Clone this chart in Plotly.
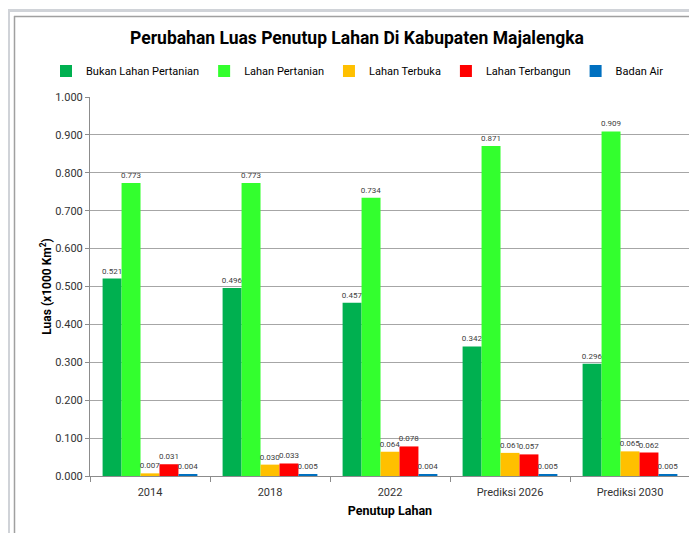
import plotly.graph_objects as go

categories = ["2014", "2018", "2022", "Prediksi 2026", "Prediksi 2030"]
series_names = ["Bukan Lahan Pertanian", "Lahan Pertanian", "Lahan Terbuka", "Lahan Terbangun", "Badan Air"]
bukan_lahan_pertanian = [0.521, 0.496, 0.457, 0.342, 0.296]
lahan_pertanian = [0.773, 0.773, 0.734, 0.871, 0.909]
lahan_terbuka = [0.007, 0.030, 0.064, 0.061, 0.065]
lahan_terbangun = [0.031, 0.033, 0.078, 0.057, 0.062]
badan_air = [0.004, 0.005, 0.004, 0.005, 0.005]
colors = ["#00B050", "#33FF2E", "#FFC000", "#FF0000", "#0070C0"]

# page body has an 8px margin; work in screen coordinates and convert
OFF = 8
W, H = 697 - OFF, 533 - OFF
L_s, R_s, T_s, B_s = 90, 690, 97, 476          # plot area in screen px
ml, mt = L_s - OFF, T_s - OFF
mr, mb = W - (R_s - OFF), H - (B_s - OFF)
pw, ph = W - ml - mr, H - mt - mb

def px(xs):
    return (xs - OFF - ml) / pw

def py(ys):
    return (H - mb - (ys - OFF)) / ph

fig = go.Figure()
for name, vals, col in zip(series_names,
                           [bukan_lahan_pertanian, lahan_pertanian, lahan_terbuka, lahan_terbangun, badan_air],
                           colors):
    fig.add_trace(go.Bar(
        x=categories, y=vals, name=name, marker=dict(color=col, line=dict(width=0)),
        text=[f"{v:.3f}" for v in vals], textposition="outside", constraintext="none",
        textfont=dict(size=8, color="#404040", family="Roboto, Arial"),
        cliponaxis=False,
    ))

font_title = "Roboto, Arial"
shapes = [
    dict(type="line", xref="paper", yref="paper", x0=px(7), x1=px(700), y0=py(10.5), y1=py(10.5),
         line=dict(color="#D0D3D8", width=3)),
    dict(type="line", xref="paper", yref="paper", x0=px(8.5), x1=px(8.5), y0=py(9), y1=py(540),
         line=dict(color="#D0D3D8", width=3)),
    dict(type="line", xref="paper", yref="paper", x0=px(14), x1=px(700), y0=py(16.5), y1=py(16.5),
         line=dict(color="#A0A0A0", width=1.5)),
    dict(type="line", xref="paper", yref="paper", x0=px(14.5), x1=px(14.5), y0=py(16), y1=py(540),
         line=dict(color="#A0A0A0", width=1.5)),
]

fig.update_layout(
    width=W, height=H,
    margin=dict(l=ml, r=mr, t=mt, b=mb, autoexpand=False),
    paper_bgcolor="white", plot_bgcolor="white",
    barmode="group", bargap=0.21, bargroupgap=0,
    title=dict(text="<b>Perubahan Luas Penutup Lahan Di Kabupaten Majalengka</b>",
               x=(357 - OFF) / W, xanchor="center", xref="container",
               y=1 - (38 - OFF) / H, yanchor="middle", yref="container",
               font=dict(size=17.5, color="black", family=font_title)),
    legend=dict(orientation="h", xref="paper", x=px(46), xanchor="left",
                yref="paper", y=py(71), yanchor="middle",
                font=dict(size=11, color="black", family=font_title),
                itemwidth=30, traceorder="normal", tracegroupgap=0),
    font=dict(family="Roboto, Arial"),
    shapes=shapes,
    xaxis=dict(showline=True, linecolor="#8C8C8C", linewidth=1, ticks="outside", tickson="boundaries",
               ticklen=5, tickcolor="#8C8C8C", tickfont=dict(size=11, color="#333333"),
               ticklabelstandoff=6,
               title=dict(text="<b>Penutup Lahan</b>", font=dict(size=12.5, color="black", family=font_title),
                          standoff=8)),
    yaxis=dict(range=[0, 1.0], dtick=0.1, tickformat=".3f", showgrid=True, gridcolor="#A6A6A6",
               gridwidth=1, showline=True, linecolor="#8C8C8C", ticks="outside", ticklen=4,
               tickcolor="#8C8C8C", tickfont=dict(size=11, color="#333333"),
               title=dict(text="<b>Luas (x1000 Km<sup>2</sup>)</b>",
                          font=dict(size=12, color="black", family=font_title), standoff=0)),
)

fig.write_html("out.html")
